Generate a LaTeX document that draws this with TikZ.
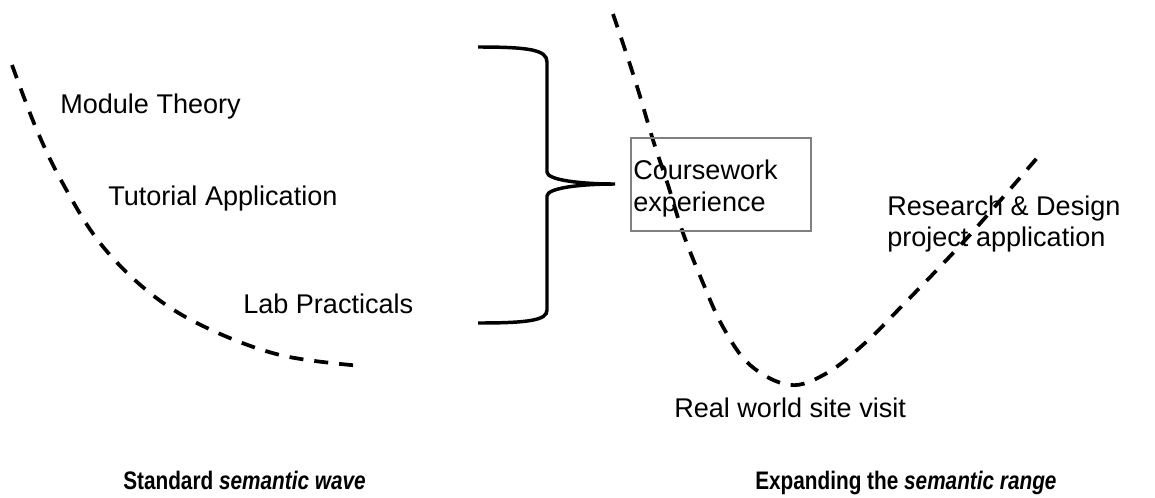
\documentclass[tikz,border=0pt]{standalone}
\usepackage{fontspec}
\setmainfont{Liberation Sans}
\newfontfamily\narrowsans[FakeStretch=0.82]{Liberation Sans}
\usetikzlibrary{calc}
\tikzset{
	wave/.style={line width=2.8pt, dash pattern=on 10.5pt off 8.25pt},
	label/.style={inner sep=0pt, anchor=base west, font=\fontsize{20.3}{23}\selectfont},
	caption/.style={inner sep=0pt, anchor=base west, font=\fontsize{19}{22}\narrowsans\bfseries}
}

\begin{document}
\begin{tikzpicture}[x=0.75pt, y=-0.75pt]
	\useasboundingbox (0,0) rectangle (1155,497);

	% standard wave
	\draw[wave] plot[smooth, tension=0.6] coordinates {(12,65) (36,128) (62,182) (100,243) (150,293) (205,327) (280,355) (362,366)};
	\node[label] (theory) at (60,113) {Module Theory};
	\node[label] (tutorial) at (108,205) {Tutorial Application};
	\node[label] (lab) at (243,313) {Lab Practicals};

	% brace
	\draw[line width=2.6pt] (478,47) .. controls (530,47) and (547,50) .. (547,62) -- (547,172)
		.. controls (547,180) and (580,184) .. (615,184)
		.. controls (580,184) and (547,188) .. (547,196) -- (547,310)
		.. controls (547,320) and (530,323) .. (478,323);

	% expanded wave
	\draw[wave] plot[smooth, tension=0.6] coordinates {(613,14) (635,80) (653,140) (668,185) (683,233) (703,283) (723,327) (750,365) (790,385) (827,373) (865,343) (900,308) (967,238) (1037,158)};
	\draw[gray, line width=0.9pt] (631,138) rectangle (811,231);
	\node[label, align=left, font=\fontsize{20.3}{24}\selectfont] (work) at (633,211) {Coursework\\experience};
	\node[label, align=left, font=\fontsize{20.3}{23}\selectfont] (research) at (887,246) {Research \& Design\\project application};
	\node[label] (visit) at (674,417) {Real world site visit};

	% captions
	\node[caption] (std) at (123,489) {Standard \textit{semantic wave}};
	\node[caption] (range) at (755,489) {Expanding the \textit{semantic range}};
\end{tikzpicture}
\end{document}
